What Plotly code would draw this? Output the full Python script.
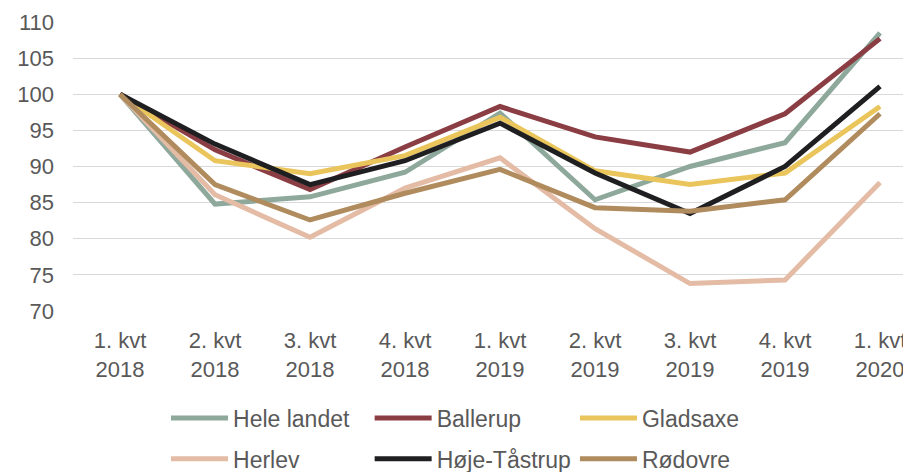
import plotly.graph_objects as go

quarters = ["1. kvt<br>2018", "2. kvt<br>2018", "3. kvt<br>2018", "4. kvt<br>2018",
            "1. kvt<br>2019", "2. kvt<br>2019", "3. kvt<br>2019", "4. kvt<br>2019",
            "1. kvt<br>2020"]

hele_landet = [100, 84.8, 85.8, 89.2, 97.4, 85.4, 90.0, 93.3, 108.5]
ballerup = [100, 92.3, 86.8, 92.7, 98.3, 94.1, 92.0, 97.3, 107.7]
gladsaxe = [100, 90.8, 89.0, 91.5, 96.8, 89.4, 87.5, 89.1, 98.3]
herlev = [100, 86.1, 80.2, 87.0, 91.2, 81.4, 73.8, 74.3, 87.8]
hoeje_taastrup = [100, 93.1, 87.5, 90.8, 96.0, 89.1, 83.5, 90.0, 101.1]
roedovre = [100, 87.5, 82.6, 86.3, 89.6, 84.3, 83.8, 85.4, 97.3]

series = [
    ("Hele landet", hele_landet, "#8ea89c"),
    ("Ballerup", ballerup, "#8b3d44"),
    ("Gladsaxe", gladsaxe, "#eac55c"),
    ("Herlev", herlev, "#e4bba5"),
    ("Høje-Tåstrup", hoeje_taastrup, "#1f1f21"),
    ("Rødovre", roedovre, "#b08b5d"),
]

FONT = "Liberation Sans, Arial, sans-serif"
GREY = "#595959"

# legend slots: 3 columns x 2 rows, like the Excel legend
leg_x = [0.111, 0.354, 0.599]
leg_y = [-0.37, -0.511]

fig = go.Figure()
for i, (name, vals, col) in enumerate(series):
    key = "legend" if i == 0 else "legend%d" % (i + 1)
    fig.add_trace(go.Scatter(
        x=list(range(len(quarters))), y=vals, name=name, mode="lines",
        line=dict(color=col, width=5), legend=key))

layout_legends = {}
for i in range(len(series)):
    key = "legend" if i == 0 else "legend%d" % (i + 1)
    layout_legends[key] = dict(
        x=leg_x[i % 3], y=leg_y[i // 3], xanchor="left", yanchor="middle",
        font=dict(family=FONT, size=23, color=GREY),
        bgcolor="rgba(0,0,0,0)", itemwidth=57)

# page body has an 8px margin, so the figure is 8px smaller each way
fig.update_layout(
    width=903, height=464,
    margin=dict(l=65, r=0, t=14, b=161, autoexpand=False),
    paper_bgcolor="white", plot_bgcolor="white",
    font=dict(family=FONT, size=22, color=GREY),
    showlegend=True,
    **layout_legends,
)

fig.update_xaxes(
    range=[-0.495, 8.326], tickvals=list(range(len(quarters))), ticktext=quarters,
    showgrid=False, zeroline=False, showline=False, automargin=False,
    ticks="", ticklabelstandoff=14,
    tickfont=dict(family=FONT, size=22, color=GREY),
)
fig.update_yaxes(
    range=[70, 110], dtick=5, showgrid=True, gridcolor="#d9d9d9", gridwidth=1.3,
    zeroline=False, showline=False, ticks="", ticklabelstandoff=18, automargin=False,
    tickfont=dict(family=FONT, size=22, color=GREY),
)

fig.write_html("out.html")
